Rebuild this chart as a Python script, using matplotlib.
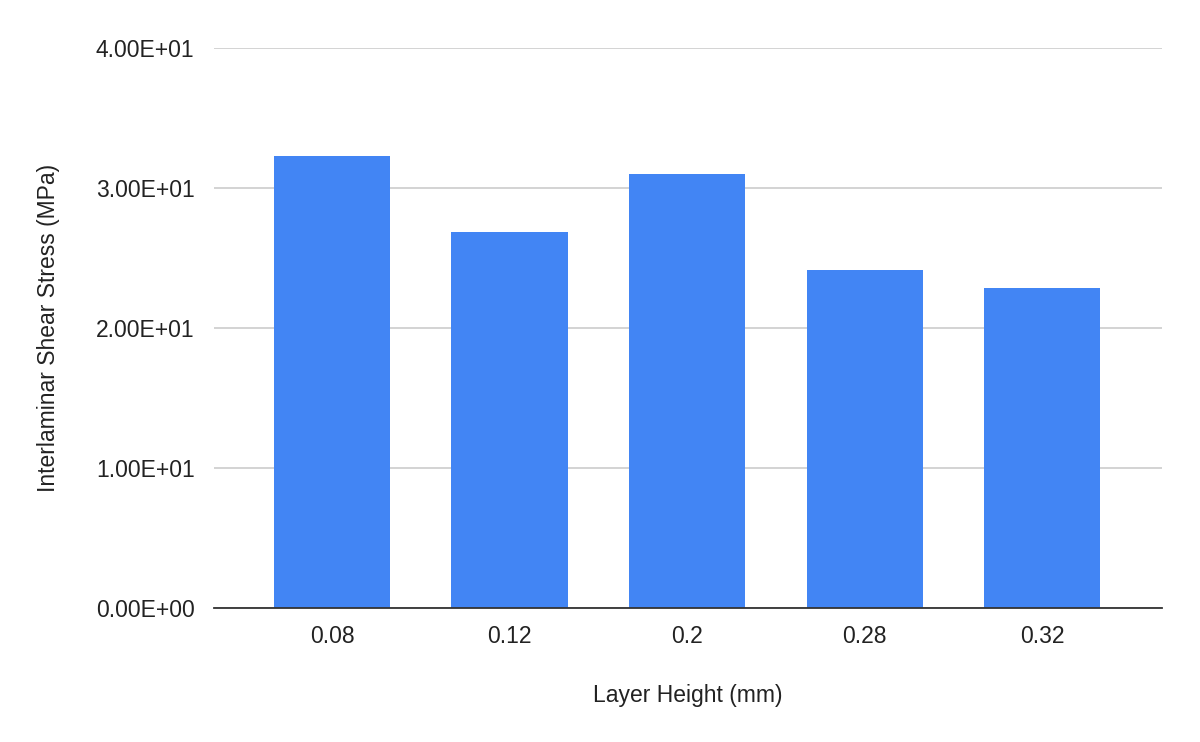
import matplotlib.pyplot as plt
from matplotlib.ticker import FuncFormatter

plt.rcParams['font.family'] = ['Liberation Sans', 'DejaVu Sans']

layer_heights = ['0.08', '0.12', '0.2', '0.28', '0.32']
shear_stress = [32.3, 26.86, 31.0, 24.14, 22.86]

fig = plt.figure(figsize=(12, 7.42), dpi=100)
ax = fig.add_axes([0.1783, 0.1806, 0.79, 0.7547])

x = range(len(layer_heights))
ax.bar(x, shear_stress, width=0.654, color='#4285F4', zorder=3)

ax.set_ylim(0, 40)
ax.set_xlim(-0.665, 4.675)
ax.set_yticks([0, 10, 20, 30, 40])
ax.yaxis.set_major_formatter(FuncFormatter(lambda v, p: '%.2E' % v))
ax.set_xticks(list(x))
ax.set_xticklabels(layer_heights)

ax.grid(axis='y', color='#cccccc', linewidth=1.2, zorder=0)
for s in ['top', 'right', 'left']:
    ax.spines[s].set_visible(False)
ax.spines['bottom'].set_color('#333333')
ax.spines['bottom'].set_linewidth(1.3)
ax.spines['bottom'].set_zorder(4)

ax.tick_params(axis='both', length=0, labelsize=16.5, labelcolor='#222222')
ax.tick_params(axis='y', pad=14)
ax.tick_params(axis='x', pad=12)

ax.set_xlabel('Layer Height (mm)', fontsize=16.5, color='#222222', labelpad=26)
ax.set_ylabel('Interlaminar Shear Stress (MPa)', fontsize=16.5, color='#222222', labelpad=26)

fig.savefig('out.png', dpi=100)
